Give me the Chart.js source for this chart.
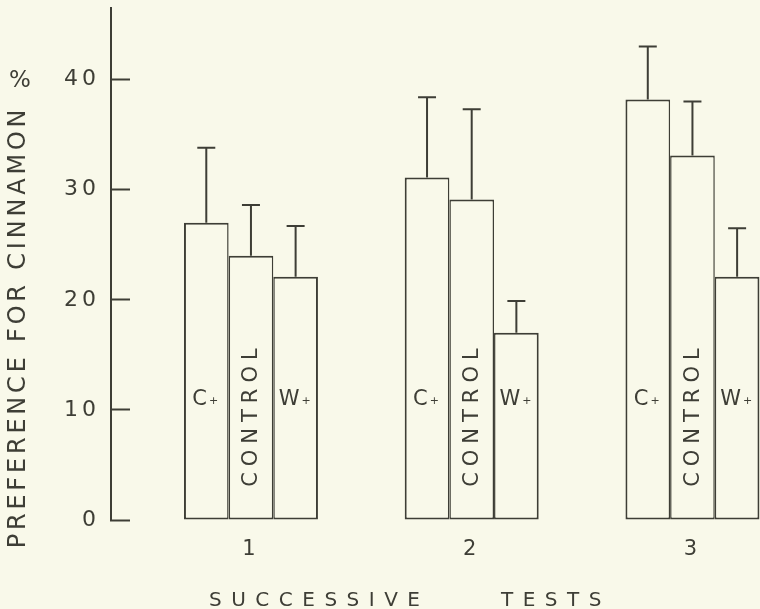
<!DOCTYPE html>
<html>
<head>
<meta charset="utf-8">
<script src="https://cdn.jsdelivr.net/npm/chart.js@4.4.0/dist/chart.umd.min.js"></script>
<style>
  html, body { margin: 0; padding: 0; background: #f9f9ea; overflow: hidden; }
  #wrap { width: 760px; height: 609px; }
</style>
</head>
<body>
<div id="wrap"><canvas id="myChart" width="760" height="609"></canvas></div>
<script>
// values (% preference, bar mean and upper error)
const tests = [1, 2, 3];
const groups = ["C+", "CONTROL", "W+"];
const cPlus = [27.0, 31.1, 38.2];
const control = [24.0, 29.1, 33.1];
const wPlus = [22.1, 17.0, 22.1];
const cPlusErr = [6.8, 7.3, 4.8];
const controlErr = [4.6, 8.2, 4.9];
const wPlusErr = [4.6, 2.9, 4.4];
const yTicks = [0, 10, 20, 30, 40];

const ink = "#3e3e36";
const paper = "#f9f9ea";
const face = "'DejaVu Sans', sans-serif";

function points(vals) {
  return tests.map((t, i) => ({ x: t, y: vals[i] }));
}

function series(label, vals, err, left, right) {
  return {
    label: label,
    data: points(vals),
    err: err,
    backgroundColor: paper,
    borderColor: ink,
    borderSkipped: false,
    borderWidth: { left: left, right: right, top: 2, bottom: 2 },
    categoryPercentage: 0.607,
    barPercentage: 1.0,
  };
}

const data = {
  datasets: [
    series(groups[0], cPlus, cPlusErr, 2, 1.5),
    series(groups[1], control, controlErr, 1.5, 1.5),
    series(groups[2], wPlus, wPlusErr, 1.5, 2),
  ],
};

// spacing for the axis numbers, Chart.js does not have an option for it
const spacing = {
  id: "spacing",
  beforeDraw(chart) {
    chart.ctx.letterSpacing = "4px";
  },
};

const errorBars = {
  id: "errorBars",
  afterDatasetsDraw(chart) {
    const ctx = chart.ctx;
    const y = chart.scales.y;
    ctx.save();
    ctx.strokeStyle = ink;
    ctx.lineWidth = 2;
    chart.data.datasets.forEach((ds, di) => {
      chart.getDatasetMeta(di).data.forEach((bar, i) => {
        const top = y.getPixelForValue(ds.data[i].y + ds.err[i]);
        ctx.beginPath();
        ctx.moveTo(bar.x, bar.y);
        ctx.lineTo(bar.x, top);
        ctx.moveTo(bar.x - 9, top);
        ctx.lineTo(bar.x + 9, top);
        ctx.stroke();
      });
    });
    ctx.restore();
  },
};

const barLabels = {
  id: "barLabels",
  afterDatasetsDraw(chart) {
    const ctx = chart.ctx;
    const y = chart.scales.y;
    ctx.save();
    ctx.fillStyle = ink;
    ctx.textBaseline = "middle";
    chart.data.datasets.forEach((ds, di) => {
      chart.getDatasetMeta(di).data.forEach((bar) => {
        if (ds.label === "CONTROL") {
          ctx.save();
          ctx.translate(bar.x + 1, y.getPixelForValue(9.3));
          ctx.rotate(-Math.PI / 2);
          ctx.font = "21px " + face;
          ctx.letterSpacing = "6px";
          ctx.textAlign = "center";
          ctx.fillText(ds.label, 3, 0);
          ctx.restore();
        } else {
          const cy = y.getPixelForValue(10.9);
          ctx.letterSpacing = "0px";
          ctx.font = "21px " + face;
          const letter = ds.label[0];
          const w1 = ctx.measureText(letter).width;
          ctx.font = "11px " + face;
          const w2 = ctx.measureText("+").width;
          const x0 = bar.x - (w1 + 2 + w2) / 2 - 1;
          ctx.textAlign = "left";
          ctx.font = "21px " + face;
          ctx.fillText(letter, x0, cy);
          ctx.font = "11px " + face;
          ctx.fillText("+", x0 + w1 + 2, cy + 1);
        }
      });
    });
    ctx.restore();
  },
};

const titles = {
  id: "titles",
  afterDraw(chart) {
    const ctx = chart.ctx;
    ctx.save();
    ctx.fillStyle = ink;

    // y title, read bottom to top
    ctx.save();
    ctx.translate(19, 329);
    ctx.rotate(-Math.PI / 2);
    ctx.font = "24px " + face;
    ctx.letterSpacing = "3.8px";
    ctx.textAlign = "center";
    ctx.textBaseline = "middle";
    ctx.fillText("PREFERENCE FOR CINNAMON", 2, 0);
    ctx.restore();

    ctx.font = "23px " + face;
    ctx.letterSpacing = "0px";
    ctx.textAlign = "center";
    ctx.textBaseline = "middle";
    ctx.fillText("%", 20, 81);

    // x title
    ctx.font = "20px " + face;
    ctx.letterSpacing = "9.5px";
    ctx.textAlign = "left";
    ctx.textBaseline = "alphabetic";
    ctx.fillText("SUCCESSIVE", 209, 606);
    ctx.fillText("TESTS", 501, 606);
    ctx.restore();
  },
};

const config = {
  type: "bar",
  data: data,
  options: {
    responsive: false,
    animation: false,
    layout: { padding: { top: 8, right: 0, bottom: 0, left: 0 } },
    plugins: {
      legend: { display: false },
      tooltip: { enabled: false },
    },
    scales: {
      x: {
        type: "linear",
        min: 0.366,
        max: 3.306,
        offset: false,
        grid: { display: false, drawTicks: false },
        border: { display: false },
        ticks: {
          stepSize: 1,
          includeBounds: false,
          color: ink,
          padding: 17,
          font: { family: face, size: 21, lineHeight: 1.2 },
        },
        afterFit(scale) {
          scale.height = 89;
          scale.paddingLeft = 0;
          scale.paddingRight = 0;
        },
      },
      y: {
        min: 0,
        max: 46.5,
        grid: {
          display: true,
          drawOnChartArea: false,
          drawTicks: true,
          tickLength: -19,
          tickWidth: 2,
          tickColor: ink,
        },
        border: { display: true, color: ink, width: 2 },
        ticks: {
          stepSize: 10,
          includeBounds: false,
          color: ink,
          padding: 30,
          font: { family: face, size: 22, lineHeight: 0.7 },
        },
        afterBuildTicks(scale) {
          scale.ticks = yTicks.map((v) => ({ value: v }));
        },
        afterFit(scale) {
          scale.width = 111;
          scale.paddingTop = 0;
          scale.paddingBottom = 0;
        },
      },
    },
  },
  plugins: [spacing, errorBars, barLabels, titles],
};

const myChart = new Chart(document.getElementById("myChart").getContext("2d"), config);
</script>
</body>
</html>
